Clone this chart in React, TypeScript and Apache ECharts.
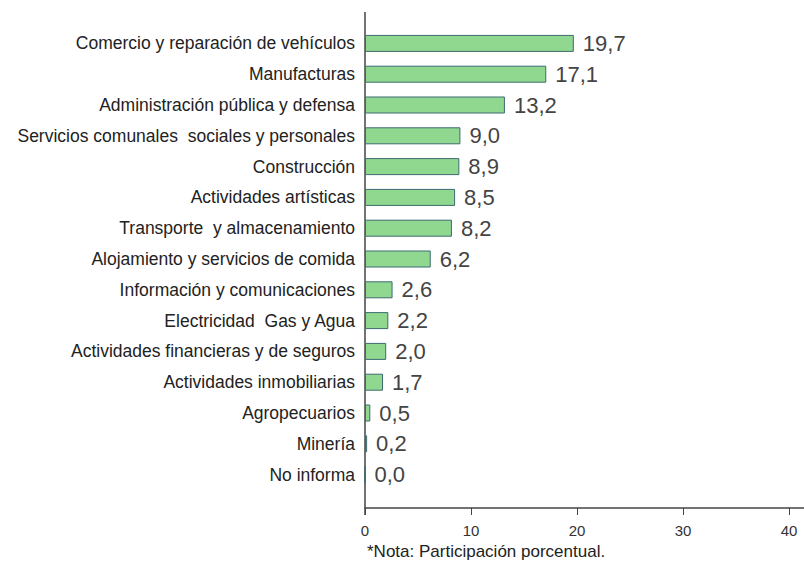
import React, { useEffect, useRef } from "react";
import * as echarts from "echarts";

const categories = [
  "Comercio y reparación de vehículos",
  "Manufacturas",
  "Administración pública y defensa",
  "Servicios comunales  sociales y personales",
  "Construcción",
  "Actividades artísticas",
  "Transporte  y almacenamiento",
  "Alojamiento y servicios de comida",
  "Información y comunicaciones",
  "Electricidad  Gas y Agua",
  "Actividades financieras y de seguros",
  "Actividades inmobiliarias",
  "Agropecuarios",
  "Minería",
  "No informa",
];
const values = [19.7, 17.1, 13.2, 9.0, 8.9, 8.5, 8.2, 6.2, 2.6, 2.2, 2.0, 1.7, 0.5, 0.2, 0.0];
const xTicks = [0, 10, 20, 30, 40];
const note = "*Nota: Participación porcentual.";

const FONT = "Liberation Sans, Arial, sans-serif";

export default function App() {
  const ref = useRef<HTMLDivElement>(null);
  useEffect(() => {
    if (!ref.current) return;
    const chart = echarts.init(ref.current, undefined, { renderer: "svg" });
    chart.setOption({
      animation: false,
      backgroundColor: "#ffffff",
      grid: { left: 365, right: 15, top: 28, bottom: 73, containLabel: false },
      xAxis: {
        type: "value",
        min: xTicks[0],
        max: xTicks[xTicks.length - 1],
        interval: 10,
        offset: 18,
        axisLine: { show: true, lineStyle: { color: "#444", width: 1.5 } },
        axisTick: { show: true, length: 7, lineStyle: { color: "#444" } },
        axisLabel: { color: "#333", fontSize: 15, fontFamily: FONT, margin: 15 },
        splitLine: { show: false },
      },
      yAxis: {
        type: "category",
        inverse: true,
        data: categories,
        axisLine: { show: false },
        axisTick: { show: false },
        axisLabel: { color: "#222", fontSize: 17.5, fontFamily: FONT, margin: 10 },
      },
      series: [
        {
          type: "bar",
          data: values,
          barWidth: 17,
          itemStyle: { color: "#90d890", borderColor: "#3d6a70", borderWidth: 1 },
          label: {
            show: true,
            position: "right",
            distance: 9,
            color: "#444",
            fontSize: 22,
            fontFamily: FONT,
            formatter: (p: any) => Number(p.value).toFixed(1).replace(".", ","),
          },
        },
      ],
      graphic: [
        {
          type: "line",
          shape: { x1: 365, y1: 12, x2: 365, y2: 515 },
          style: { stroke: "#444", lineWidth: 1.5 },
        },
        {
          type: "line",
          shape: { x1: 789, y1: 508, x2: 804, y2: 508 },
          style: { stroke: "#444", lineWidth: 1.5 },
        },
        {
          type: "text",
          left: 367,
          top: 543,
          style: { text: note, fill: "#222", fontSize: 17, fontFamily: FONT },
        },
      ],
    });
    return () => chart.dispose();
  }, []);
  return <div ref={ref} style={{ width: 804, height: 563, position: "absolute", left: 0, top: 0 }} />;
}
